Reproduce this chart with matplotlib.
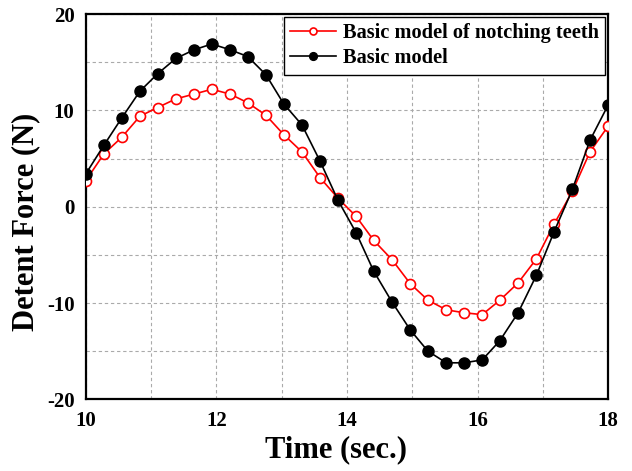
import matplotlib
matplotlib.use("Agg")
import matplotlib.pyplot as plt

# Sample times (sec.)
time = [10.00, 10.28, 10.55, 10.83, 11.10, 11.38, 11.66, 11.93, 12.21, 12.48,
        12.76, 13.03, 13.31, 13.59, 13.86, 14.14, 14.41, 14.69, 14.97, 15.24,
        15.52, 15.79, 16.07, 16.34, 16.62, 16.90, 17.17, 17.45, 17.72, 18.00]

# Detent force (N)
notched = [2.7, 5.5, 7.2, 9.4, 10.3, 11.2, 11.7, 12.2, 11.7, 10.8,
           9.5, 7.5, 5.7, 3.0, 0.9, -1.0, -3.5, -5.5, -8.0, -9.7,
           -10.7, -11.0, -11.2, -9.7, -7.9, -5.4, -1.8, 1.6, 5.7, 8.4]
basic = [3.4, 6.4, 9.2, 12.0, 13.8, 15.4, 16.3, 16.9, 16.3, 15.6,
         13.7, 10.7, 8.5, 4.7, 0.7, -2.7, -6.7, -9.9, -12.8, -15.0,
         -16.2, -16.2, -15.9, -13.9, -11.0, -7.1, -2.6, 1.8, 6.9, 10.6]

x_ticks = [10, 12, 14, 16, 18]
y_ticks = [-20, -10, 0, 10, 20]

plt.rcParams['font.family'] = ['Liberation Serif', 'DejaVu Serif']
plt.rcParams['font.weight'] = 'bold'
plt.rcParams['axes.unicode_minus'] = False

fig = plt.figure(figsize=(6.32, 4.71), dpi=100)
ax = fig.add_axes([0.1356, 0.152, 0.8269, 0.818])

ax.plot(time, notched, color='red', linewidth=1.2, marker='o', markersize=7.2,
        markerfacecolor='white', markeredgecolor='red', markeredgewidth=1.2,
        label='Basic model of notching teeth', zorder=3)
ax.plot(time, basic, color='black', linewidth=1.2, marker='o', markersize=8,
        markerfacecolor='black', markeredgecolor='black',
        label='Basic model', zorder=4)

ax.set_xlim(10, 18)
ax.set_ylim(-20, 20)
ax.set_xticks(x_ticks)
ax.set_yticks(y_ticks)
ax.set_xticks(range(10, 19), minor=True)
ax.set_yticks(range(-20, 21, 5), minor=True)
ax.grid(True, which='both', color='#aaaaaa', linestyle=(0, (3, 2.5)), linewidth=0.8)
ax.tick_params(which='both', length=0, labelsize=15, pad=8)
for lab in ax.get_xticklabels() + ax.get_yticklabels():
    lab.set_fontweight('bold')

for s in ax.spines.values():
    s.set_linewidth(1.6)

ax.set_xlabel('Time (sec.)', fontsize=22, fontweight='bold')
ax.set_ylabel('Detent Force (N)', fontsize=22, fontweight='bold')
ax.xaxis.set_label_coords(0.479, -0.093)
ax.yaxis.set_label_coords(-0.087, 0.46)

leg = ax.legend(loc='upper right', fontsize=14.7, frameon=True, fancybox=False,
                edgecolor='black', framealpha=1, borderaxespad=0.15,
                handlelength=2.25, handletextpad=0.35, borderpad=0.3,
                labelspacing=0.25, markerscale=0.7)
leg.get_frame().set_linewidth(1.0)

fig.savefig('out.png', dpi=100)
